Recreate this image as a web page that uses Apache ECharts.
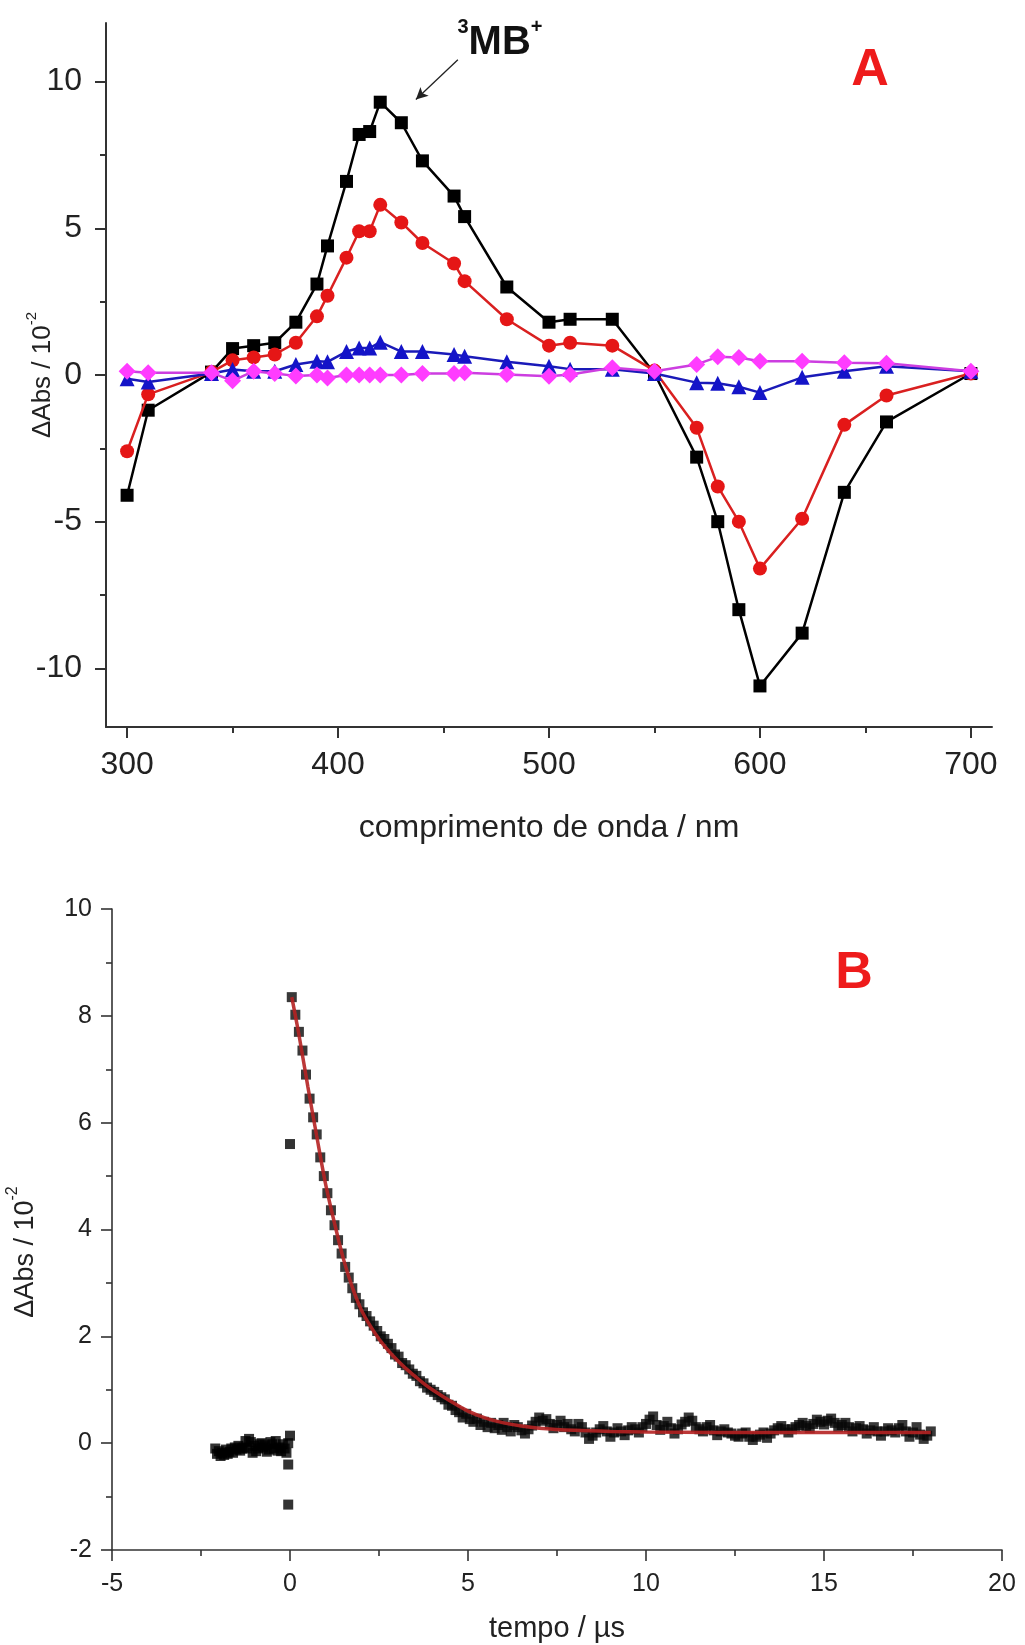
<!DOCTYPE html>
<html>
<head>
<meta charset="utf-8">
<script src="https://cdn.jsdelivr.net/npm/echarts@6/dist/echarts.min.js"></script>
<style>
html,body{margin:0;padding:0;background:#ffffff;}
#chart{width:1025px;height:1645px;}
</style>
</head>
<body>
<div id="chart"></div>
<script>
// ---------- Panel A data (wavelength / nm vs ΔAbs / 10^-2) ----------
const wavelengths = [300, 310, 340, 350, 360, 370, 380, 390, 395, 404, 410, 415, 420, 430, 440, 455, 460, 480, 500, 510, 530, 550, 570, 580, 590, 600, 620, 640, 660, 700];
const seriesBlack = [-4.1, -1.2, 0.1, 0.9, 1.0, 1.1, 1.8, 3.1, 4.4, 6.6, 8.2, 8.3, 9.3, 8.6, 7.3, 6.1, 5.4, 3.0, 1.8, 1.9, 1.9, 0.05, -2.8, -5.0, -8.0, -10.6, -8.8, -4.0, -1.6, 0.05];
const seriesRed = [-2.6, -0.66, 0.1, 0.5, 0.6, 0.7, 1.1, 2.0, 2.7, 4.0, 4.9, 4.9, 5.8, 5.2, 4.5, 3.8, 3.2, 1.9, 1.0, 1.1, 1.0, 0.15, -1.8, -3.8, -5.0, -6.6, -4.9, -1.7, -0.7, 0.05];
const seriesBlue = [-0.13, -0.24, 0.05, 0.19, 0.13, 0.13, 0.36, 0.47, 0.45, 0.8, 0.92, 0.92, 1.12, 0.8, 0.8, 0.7, 0.64, 0.45, 0.3, 0.2, 0.2, 0.05, -0.26, -0.28, -0.4, -0.6, -0.08, 0.13, 0.3, 0.13];
const seriesPink = [0.13, 0.08, 0.08, -0.2, 0.13, 0.05, -0.03, 0.0, -0.1, 0.0, 0.0, 0.0, 0.0, 0.0, 0.05, 0.05, 0.08, 0.02, -0.04, 0.02, 0.25, 0.13, 0.36, 0.62, 0.6, 0.47, 0.47, 0.42, 0.4, 0.13];
const ticksA_x_major = [300, 400, 500, 600, 700];
const ticksA_x_minor = [350, 450, 550, 650];
const ticksA_y_major = [-10, -5, 0, 5, 10];
const ticksA_y_minor = [-7.5, -2.5, 2.5, 7.5];
const arrowFrom = [456.8, 10.75];
const arrowTo = [436.9, 9.39];

// ---------- Panel B data (tempo / µs vs ΔAbs / 10^-2) ----------
const preTriggerPoints = [
  [-2.1,-0.1],[-2.05,-0.2],[-2.0,-0.15],[-1.95,-0.24],[-1.9,-0.18],[-1.85,-0.22],[-1.8,-0.12],[-1.75,-0.2],
  [-1.7,-0.16],[-1.65,-0.1],[-1.6,-0.18],[-1.55,-0.08],[-1.5,-0.12],[-1.45,-0.05],[-1.4,-0.14],[-1.35,-0.1],[-1.3,-0.08],[-1.25,0.04],
  [-1.2,-0.1],[-1.15,0.08],[-1.1,0.02],[-1.05,-0.18],[-1.0,-0.05],[-0.95,-0.15],[-0.9,-0.1],[-0.85,-0.02],[-0.8,0.0],[-0.75,-0.08],
  [-0.7,-0.04],[-0.65,-0.16],[-0.6,-0.12],[-0.55,0.02],[-0.5,-0.02],[-0.45,-0.1],[-0.4,0.04],[-0.35,-0.14],[-0.3,-0.08],[-0.25,-0.15],[-0.2,-0.02],
  [-0.15,-0.1],[-0.1,-0.18],[-0.05,0.0],[0.0,0.14],[-0.05,-0.4],[-0.05,-1.15],[0.0,5.6]
];
const decayPoints = [
  [0.05,8.35],[0.15,8.02],[0.25,7.7],[0.35,7.35],[0.45,6.9],[0.55,6.45],[0.65,6.1],[0.75,5.78],[0.85,5.35],
  [0.95,5.0],[1.05,4.68],[1.15,4.36],[1.25,4.08],[1.35,3.8],[1.45,3.55],[1.55,3.3],[1.65,3.1],[1.75,2.9],
  [1.85,2.72],[1.95,2.6],[2.05,2.45],[2.15,2.38],[2.25,2.28],[2.35,2.2],[2.45,2.1],[2.55,2.0],[2.65,1.95],
  [2.75,1.86],[2.85,1.78],[2.95,1.66],[3.05,1.62],[3.15,1.5],[3.25,1.46],[3.35,1.38],[3.45,1.3],[3.55,1.26],
  [3.65,1.16],[3.75,1.12],[3.85,1.04],[3.95,1.0],[4.05,0.96],[4.15,0.9],[4.25,0.86],[4.35,0.82],[4.45,0.72],
  [4.55,0.7],[4.65,0.62],[4.75,0.58],[4.85,0.48],[4.95,0.55],[5.05,0.45],[5.15,0.4],[5.25,0.46],[5.35,0.34],
  [5.45,0.4],[5.55,0.3],[5.65,0.38],[5.75,0.28],[5.85,0.34],[5.95,0.25]
];
const tailPoints = [
  [6.0,0.38],[6.1,0.3],[6.2,0.22],[6.3,0.34],[6.4,0.3],[6.5,0.24],[6.6,0.18],[6.7,0.26],[6.8,0.33],[6.9,0.4],
  [7.0,0.48],[7.1,0.42],[7.2,0.45],[7.3,0.36],[7.4,0.28],[7.5,0.34],[7.6,0.42],[7.7,0.3],[7.8,0.36],[7.9,0.26],
  [8.0,0.22],[8.1,0.36],[8.2,0.3],[8.3,0.2],[8.4,0.08],[8.5,0.14],[8.6,0.2],[8.7,0.26],[8.8,0.32],[8.9,0.22],
  [9.0,0.12],[9.1,0.2],[9.2,0.28],[9.3,0.22],[9.4,0.15],[9.5,0.24],[9.6,0.3],[9.7,0.26],[9.8,0.2],[9.9,0.3],
  [10.0,0.36],[10.1,0.44],[10.2,0.5],[10.3,0.34],[10.4,0.25],[10.5,0.32],[10.6,0.4],[10.7,0.28],[10.8,0.18],[10.9,0.26],
  [11.0,0.35],[11.1,0.4],[11.2,0.48],[11.3,0.42],[11.4,0.3],[11.5,0.26],[11.6,0.22],[11.7,0.3],[11.8,0.34],[11.9,0.24],
  [12.0,0.15],[12.1,0.22],[12.2,0.26],[12.3,0.2],[12.4,0.18],[12.5,0.14],[12.6,0.12],[12.7,0.18],[12.8,0.2],[12.9,0.12],
  [13.0,0.06],[13.1,0.12],[13.2,0.16],[13.3,0.2],[13.4,0.1],[13.5,0.18],[13.6,0.24],[13.7,0.28],[13.8,0.32],[13.9,0.26],
  [14.0,0.2],[14.1,0.26],[14.2,0.3],[14.3,0.34],[14.4,0.38],[14.5,0.32],[14.6,0.28],[14.7,0.36],[14.8,0.44],[14.9,0.4],
  [15.0,0.35],[15.1,0.42],[15.2,0.46],[15.3,0.38],[15.4,0.3],[15.5,0.34],[15.6,0.38],[15.7,0.3],[15.8,0.22],[15.9,0.28],
  [16.0,0.32],[16.1,0.26],[16.2,0.18],[16.3,0.24],[16.4,0.3],[16.5,0.22],[16.6,0.14],[16.7,0.22],[16.8,0.28],[16.9,0.24],
  [17.0,0.2],[17.1,0.28],[17.2,0.34],[17.3,0.22],[17.4,0.12],[17.5,0.2],[17.6,0.3],[17.7,0.16],[17.8,0.08],[17.9,0.14],[18.0,0.22]
];
const fitCurve = [
  [0.05,8.35],[0.25,7.65],[0.5,6.68],[0.75,5.75],[1.0,4.85],[1.25,4.12],[1.5,3.45],[1.75,2.92],[2.0,2.5],
  [2.25,2.2],[2.5,1.95],[2.75,1.74],[3.0,1.56],[3.25,1.4],[3.5,1.26],[3.75,1.12],[4.0,1.0],[4.5,0.79],
  [5.0,0.6],[5.5,0.47],[6.0,0.38],[6.5,0.32],[7.0,0.28],[8.0,0.24],[9.0,0.22],[10.0,0.21],[12.0,0.2],
  [14.0,0.2],[16.0,0.2],[18.0,0.2]
];

// ---------- Build ----------
const FONT = '"Liberation Sans", Arial, Helvetica, sans-serif';
const AX = '#333333';
const pairs = (ys) => wavelengths.map((w, i) => [w, ys[i]]);

const chart = echarts.init(document.getElementById('chart'), null, {renderer: 'canvas'});

const option = {
  animation: false,
  backgroundColor: '#ffffff',
  grid: [
    {left: 106, top: 23, width: 886, height: 704, containLabel: false, outerBoundsMode: 'none'},
    {left: 112, top: 909, width: 890, height: 641, containLabel: false, outerBoundsMode: 'none'}
  ],
  xAxis: [
    {
      gridIndex: 0, type: 'value', min: 290, max: 710, position: 'bottom',
      axisLine: {show: true, onZero: false, lineStyle: {color: AX, width: 2}},
      axisTick: {show: true, inside: false, length: 11, customValues: ticksA_x_major, lineStyle: {color: AX, width: 2}},
      axisLabel: {show: true, customValues: ticksA_x_major, margin: 22, fontSize: 32, color: '#222', fontFamily: FONT},
      splitLine: {show: false},
      name: 'comprimento de onda / nm', nameLocation: 'middle', nameGap: 85,
      nameTextStyle: {fontSize: 32, color: '#222', fontFamily: FONT}
    },
    {
      gridIndex: 0, type: 'value', min: 290, max: 710, position: 'bottom',
      axisLine: {show: false, onZero: false},
      axisTick: {show: true, inside: false, length: 6, customValues: ticksA_x_minor, lineStyle: {color: AX, width: 2}},
      axisLabel: {show: false},
      splitLine: {show: false}
    },
    {
      gridIndex: 1, type: 'value', min: -5, max: 20, interval: 5, position: 'bottom',
      axisLine: {show: true, onZero: false, lineStyle: {color: AX, width: 1.6}},
      axisTick: {show: true, inside: false, length: 11, lineStyle: {color: AX, width: 1.6}},
      minorTick: {show: true, splitNumber: 2, length: 6, lineStyle: {color: AX, width: 1.6}},
      axisLabel: {margin: 22, fontSize: 25, color: '#222', fontFamily: FONT},
      splitLine: {show: false}, minorSplitLine: {show: false},
      name: 'tempo / µs', nameLocation: 'middle', nameGap: 64,
      nameTextStyle: {fontSize: 29, color: '#222', fontFamily: FONT}
    }
  ],
  yAxis: [
    {
      gridIndex: 0, type: 'value', min: -12, max: 12, position: 'left',
      axisLine: {show: true, onZero: false, lineStyle: {color: AX, width: 2}},
      axisTick: {show: true, inside: false, length: 11, customValues: ticksA_y_major, lineStyle: {color: AX, width: 2}},
      axisLabel: {show: true, customValues: ticksA_y_major, margin: 24, fontSize: 32, color: '#222', fontFamily: FONT},
      splitLine: {show: false}
    },
    {
      gridIndex: 0, type: 'value', min: -12, max: 12, position: 'left',
      axisLine: {show: false, onZero: false},
      axisTick: {show: true, inside: false, length: 6, customValues: ticksA_y_minor, lineStyle: {color: AX, width: 2}},
      axisLabel: {show: false},
      splitLine: {show: false}
    },
    {
      gridIndex: 1, type: 'value', min: -2, max: 10, interval: 2, position: 'left',
      axisLine: {show: true, onZero: false, lineStyle: {color: AX, width: 1.6}},
      axisTick: {show: true, inside: false, length: 11, lineStyle: {color: AX, width: 1.6}},
      minorTick: {show: true, splitNumber: 2, length: 6, lineStyle: {color: AX, width: 1.6}},
      axisLabel: {margin: 20, fontSize: 25, color: '#222', fontFamily: FONT},
      splitLine: {show: false}, minorSplitLine: {show: false}
    }
  ],
  series: [
    {
      name: 'black', type: 'line', xAxisIndex: 0, yAxisIndex: 0, data: pairs(seriesBlack),
      symbol: 'rect', symbolSize: 13, showAllSymbol: true,
      itemStyle: {color: '#000000'}, lineStyle: {color: '#000000', width: 2.5},
      markLine: {
        silent: true, symbol: ['none', 'arrow'], symbolSize: [9, 12], label: {show: false},
        lineStyle: {color: '#222', width: 1.3, type: 'solid'},
        data: [[{coord: arrowFrom}, {coord: arrowTo}]]
      },
      z: 2
    },
    {
      name: 'red', type: 'line', xAxisIndex: 0, yAxisIndex: 0, data: pairs(seriesRed),
      symbol: 'circle', symbolSize: 14, showAllSymbol: true,
      itemStyle: {color: '#e51616'}, lineStyle: {color: '#d92020', width: 2.5},
      z: 3
    },
    {
      name: 'blue', type: 'line', xAxisIndex: 0, yAxisIndex: 0, data: pairs(seriesBlue),
      symbol: 'triangle', symbolSize: 15, showAllSymbol: true,
      itemStyle: {color: '#1414c8'}, lineStyle: {color: '#1a1ab8', width: 2.5},
      z: 4
    },
    {
      name: 'pink', type: 'line', xAxisIndex: 0, yAxisIndex: 0, data: pairs(seriesPink),
      symbol: 'diamond', symbolSize: 17, showAllSymbol: true,
      itemStyle: {color: '#ff3cff'}, lineStyle: {color: '#cc3ee0', width: 2.5},
      z: 5
    },
    {
      name: 'pre', type: 'scatter', xAxisIndex: 2, yAxisIndex: 2, data: preTriggerPoints,
      symbol: 'rect', symbolSize: 10, itemStyle: {color: '#000000'}, z: 2
    },
    {
      name: 'decay', type: 'scatter', xAxisIndex: 2, yAxisIndex: 2, data: decayPoints.concat(tailPoints),
      symbol: 'rect', symbolSize: 10, itemStyle: {color: '#080808'}, z: 2
    },
    {
      name: 'fit', type: 'line', xAxisIndex: 2, yAxisIndex: 2, data: fitCurve,
      showSymbol: false, smooth: 0.3,
      lineStyle: {color: '#b52222', width: 3.5, opacity: 0.9}, z: 3
    }
  ],
  graphic: [
    {
      type: 'text', x: 40, y: 375, rotation: Math.PI / 2,
      style: {
        text: '{a|ΔAbs / 10}{s|-2}', align: 'center', verticalAlign: 'middle',
        rich: {
          a: {fontSize: 26, fontFamily: FONT, fill: '#222', color: '#222', lineHeight: 32, verticalAlign: 'bottom'},
          s: {fontSize: 15, fontFamily: FONT, fill: '#222', color: '#222', lineHeight: 32, verticalAlign: 'top'}
        }
      }
    },
    {
      type: 'text', x: 22, y: 1252, rotation: Math.PI / 2,
      style: {
        text: '{a|ΔAbs / 10}{s|-2}', align: 'center', verticalAlign: 'middle',
        rich: {
          a: {fontSize: 27, fontFamily: FONT, fill: '#222', color: '#222', lineHeight: 34, verticalAlign: 'bottom'},
          s: {fontSize: 16, fontFamily: FONT, fill: '#222', color: '#222', lineHeight: 34, verticalAlign: 'top'}
        }
      }
    },
    {
      type: 'text', x: 870, y: 71,
      style: {text: 'A', align: 'center', verticalAlign: 'middle', fontSize: 52, fontWeight: 'bold', fontFamily: FONT, fill: '#ee1b1b'}
    },
    {
      type: 'text', x: 854, y: 974,
      style: {text: 'B', align: 'center', verticalAlign: 'middle', fontSize: 52, fontWeight: 'bold', fontFamily: FONT, fill: '#ee1b1b'}
    },
    {
      type: 'text', x: 500, y: 40,
      style: {
        text: '{s|3}{m|MB}{s|+}', align: 'center', verticalAlign: 'middle',
        rich: {
          m: {fontSize: 40, fontWeight: 'bold', fontFamily: FONT, fill: '#111', color: '#111', lineHeight: 46, verticalAlign: 'bottom'},
          s: {fontSize: 20, fontWeight: 'bold', fontFamily: FONT, fill: '#111', color: '#111', lineHeight: 46, verticalAlign: 'top'}
        }
      }
    }
  ]
};
chart.setOption(option);
</script>
</body>
</html>
